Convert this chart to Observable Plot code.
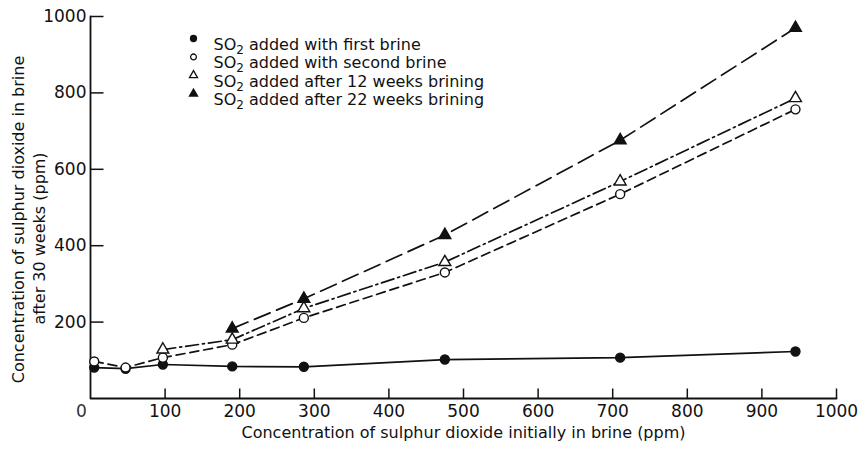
<!DOCTYPE html>
<html>
<head>
<meta charset="utf-8">
<script src="https://cdn.jsdelivr.net/npm/d3@7"></script>
<script src="https://cdn.jsdelivr.net/npm/@observablehq/plot@0.6"></script>
<style>
  html, body { margin: 0; padding: 0; background: #fff; }
</style>
</head>
<body>
<div id="chart"></div>
<script>
// SO2 initially in brine (ppm) at which each batch was sampled
const initialSO2 = [5, 47, 97, 190, 286, 475, 710, 945];

// SO2 remaining after 30 weeks (ppm) for each addition schedule
const firstBrine  = [81, 78, 89, 84, 83, 102, 107, 123];
const secondBrine = [97, 81, 107, 141, 211, 330, 535, 757];
const after12Initial = [97, 190, 286, 475, 710, 945];
const after12Weeks   = [128, 154, 236, 357, 568, 786];
const after22Initial = [190, 286, 475, 710, 945];
const after22Weeks   = [183, 261, 428, 676, 970];

const seriesNames = [
  "SO2 added with first brine",
  "SO2 added with second brine",
  "SO2 added after 12 weeks brining",
  "SO2 added after 22 weeks brining"
];

const xDomain = [0, 1000];
const yDomain = [0, 1000];
const xTicks = [100, 200, 300, 400, 500, 600, 700, 800, 900, 1000];
const yTicks = [200, 400, 600, 800, 1000];

const xTitle = "Concentration of sulphur dioxide initially in brine (ppm)";
const yTitle1 = "Concentration of sulphur dioxide in brine";
const yTitle2 = "after 30 weeks (ppm)";

// long-format table
const rows = [
  ...initialSO2.map((x, i) => ({series: seriesNames[0], x, y: firstBrine[i]})),
  ...initialSO2.map((x, i) => ({series: seriesNames[1], x, y: secondBrine[i]})),
  ...after12Initial.map((x, i) => ({series: seriesNames[2], x, y: after12Weeks[i]})),
  ...after22Initial.map((x, i) => ({series: seriesNames[3], x, y: after22Weeks[i]}))
];

const ink = "#111";
const styles = [
  {symbol: "circle",   fill: ink,    dash: null,        r: 4.5, lr: 3.0},
  {symbol: "circle",   fill: "#fff", dash: "9,5",       r: 4.5, lr: 2.9},
  {symbol: "triangle", fill: "#fff", dash: "13,4,2,4",  r: 4.4, lr: 3.0},
  {symbol: "triangle", fill: ink,    dash: "17,7",      r: 4.4, lr: 3.0}
];

const font = "DejaVu Sans, sans-serif";

// plot frame size in pixels
const W = 862, H = 452, ML = 90, MR = 26, MT = 16, MB = 54;
const frameW = W - ML - MR, frameH = H - MT - MB;

// tick lengths (10px up from the x axis, 13px right of the y axis) in data units
const xTickLen = 10 * (yDomain[1] - yDomain[0]) / frameH;
const yTickLen = 13 * (xDomain[1] - xDomain[0]) / frameW;

// L-shaped axis line: up the left edge, along the bottom edge
const axisCorner = [
  {x: xDomain[0], y: yDomain[1]},
  {x: xDomain[0], y: yDomain[0]},
  {x: xDomain[1], y: yDomain[0]}
];

const lineMarks = seriesNames.map((name, i) =>
  Plot.line(rows.filter(d => d.series === name), {
    x: "x", y: "y", stroke: ink, strokeWidth: 1.7,
    strokeDasharray: styles[i].dash
  })
);

const dotMarks = seriesNames.map((name, i) =>
  Plot.dot(rows.filter(d => d.series === name), {
    x: "x", y: "y", symbol: () => styles[i].symbol, r: styles[i].r,
    fill: styles[i].fill, stroke: ink, strokeWidth: 1.4
  })
);

const legendMarks = seriesNames.flatMap((name, i) => [
  Plot.dot([name], {
    frameAnchor: "top-left", dx: 103, dy: 22 + i * 18.4,
    symbol: () => styles[i].symbol, r: styles[i].lr,
    fill: styles[i].fill, stroke: ink, strokeWidth: 1.3
  }),
  Plot.text([name], {
    frameAnchor: "top-left", dx: 123, dy: 22 + i * 18.4,
    text: d => d, textAnchor: "start", fontSize: 16, fill: ink
  })
]);

const chart = Plot.plot({
  width: W,
  height: H,
  marginLeft: ML,
  marginRight: MR,
  marginTop: MT,
  marginBottom: MB,
  style: {fontFamily: font, color: ink, background: "#fff"},
  x: {domain: xDomain},
  y: {domain: yDomain},
  symbol: {type: "identity"},
  marks: [
    // axis lines
    Plot.line(axisCorner, {x: "x", y: "y", stroke: ink, strokeWidth: 1.8, curve: "linear"}),
    // inward ticks
    Plot.link(xTicks, {x1: d => d, x2: d => d, y1: yDomain[0], y2: yDomain[0] + xTickLen,
      stroke: ink, strokeWidth: 1.5}),
    Plot.link(yTicks, {y1: d => d, y2: d => d, x1: xDomain[0], x2: xDomain[0] + yTickLen,
      stroke: ink, strokeWidth: 1.5}),
    // tick labels
    Plot.axisX(xTicks, {tickSize: 0, tickPadding: 6, label: null, fontSize: 17, fill: ink, tickFormat: d => String(d)}),
    Plot.axisX([0], {tickSize: 0, tickPadding: 6, label: null, fontSize: 17, fill: "#333", dx: -9, tickFormat: d => String(d)}),
    Plot.axisY(yTicks, {tickSize: 0, tickPadding: 4, label: null, fontSize: 17, fill: ink, tickFormat: d => String(d)}),
    // axis titles
    Plot.text([xTitle], {frameAnchor: "bottom", dy: 39, text: d => d, fontSize: 16, fill: ink}),
    Plot.text([yTitle1], {frameAnchor: "left", dx: -72, dy: 12, rotate: -90, textAnchor: "middle",
      text: d => d, fontSize: 16, fill: ink}),
    Plot.text([yTitle2], {frameAnchor: "left", dx: -51, dy: 31, rotate: -90, textAnchor: "middle",
      text: d => d, fontSize: 16, fill: ink}),
    ...lineMarks,
    ...dotMarks,
    ...legendMarks
  ]
});

// chemical formula: set the 2 of SO2 as a subscript
d3.select(chart).selectAll("text").each(function () {
  const t = this.textContent;
  if (!t.startsWith("SO2")) return;
  const sel = d3.select(this);
  sel.text(null);
  sel.append("tspan").text("SO");
  sel.append("tspan").attr("dy", 4).attr("font-size", 12).text("2");
  sel.append("tspan").attr("dy", -4).text(t.slice(3));
});

document.getElementById("chart").append(chart);
</script>
</body>
</html>
